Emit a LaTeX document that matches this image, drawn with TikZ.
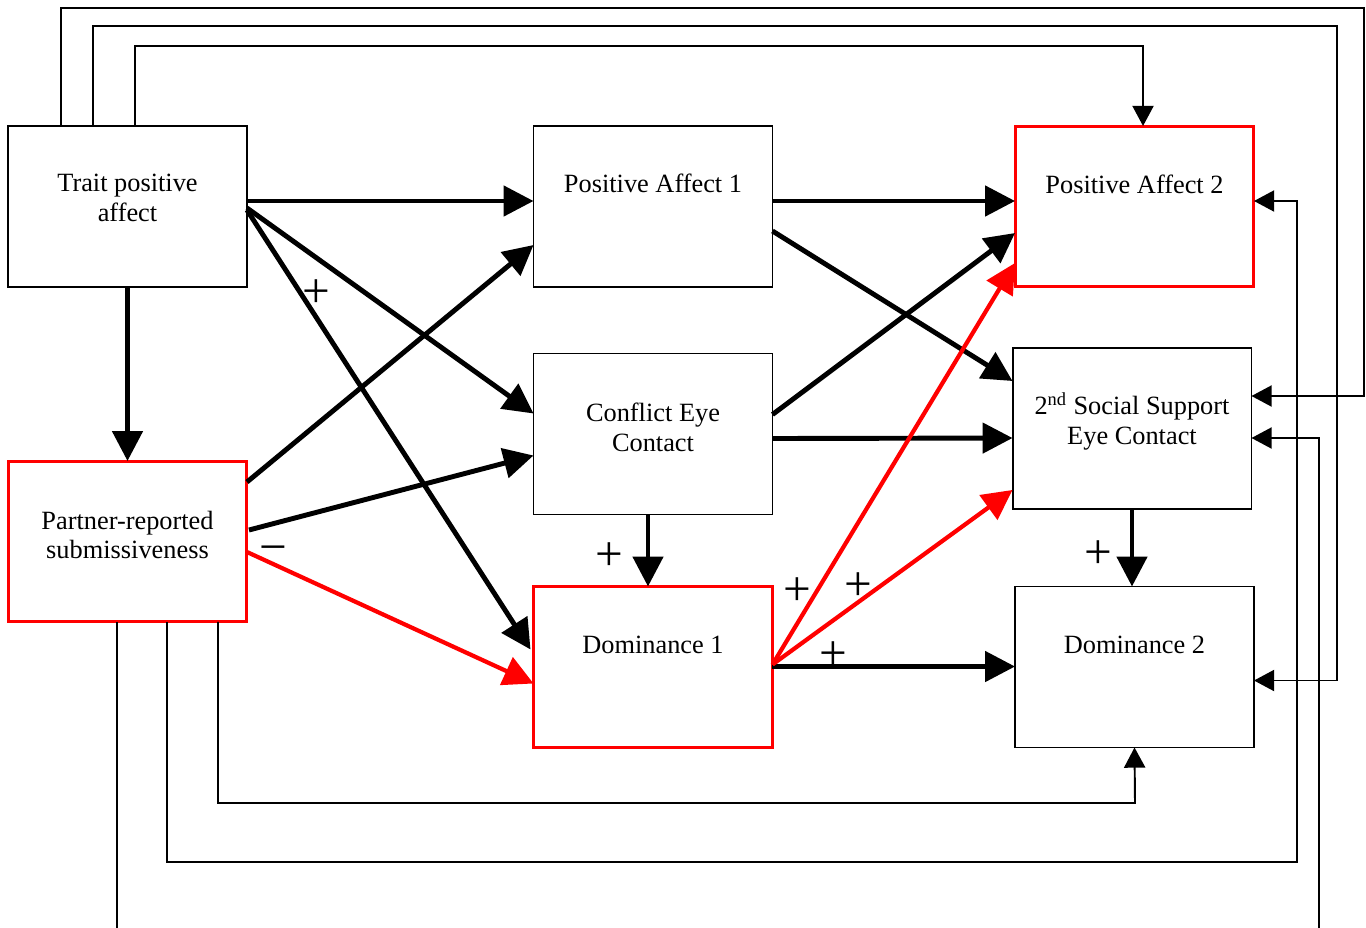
\documentclass[tikz,border=0pt]{standalone}
\usepackage{fontspec}
\setmainfont{Liberation Serif}
\usetikzlibrary{arrows.meta,calc}
\begin{document}
\begin{tikzpicture}[x=0.02cm,y=-0.02cm,
  box/.style={draw=black,line width=1.1pt,minimum width=4.78cm,minimum height=3.22cm,inner sep=0pt,outer sep=0pt},
  redbox/.style={box,draw=red,line width=1.7pt},
  lbl/.style={font=\fontsize{15}{17}\selectfont,align=center,inner sep=0pt},
  sign/.style={font=\fontsize{28}{28}\selectfont,inner sep=0pt},
  thickarr/.style={draw=black,line width=2.8pt,-{Triangle[length=17pt,width=17pt]}},
  redarr/.style={draw=red,line width=2.4pt,-{Triangle[length=17pt,width=17pt]}},
  thinarr/.style={draw=black,line width=1.1pt,-{Triangle[length=11.5pt,width=12pt]}}
]
\useasboundingbox (0,0) rectangle (1366,928);
\fill[white] (0,0) rectangle (1366,928);
\clip (0,0) rectangle (1366,928);

% boxes
\node[box]    (trait)   at (127.5,206.5) {};
\node[redbox] (partner) at (127.5,541.5) {};
\node[box]    (pa1)     at (653,206.5) {};
\node[box]    (conf)    at (653,434) {};
\node[redbox] (dom1)    at (653,667) {};
\node[redbox] (pa2)     at (1134.5,206.5) {};
\node[box]    (ss)      at (1132,428.5) {};
\node[box]    (dom2)    at (1134.5,667) {};

% texts
\node[lbl] (traitT)   at ($(trait.north)+(0,72)$) {Trait positive\\affect};
\node[lbl] (partnerT) at ($(partner.north)+(0,74)$) {Partner-reported\\submissiveness};
\node[lbl] (pa1T)     at ($(pa1.north)+(0,57)$) {Positive Affect 1};
\node[lbl] (confT)    at ($(conf.north)+(0,74)$) {Conflict Eye\\Contact};
\node[lbl] (dom1T)    at ($(dom1.north)+(0,58)$) {Dominance 1};
\node[lbl] (pa2T)     at ($(pa2.north)+(0,58)$) {Positive Affect 2};
\node[lbl] (ssT)      at ($(ss.north)+(0,73)$) {2\textsuperscript{nd} Social Support\\Eye Contact};
\node[lbl] (dom2T)    at ($(dom2.north)+(0,58)$) {Dominance 2};

% thick black paths
\draw[thickarr] ($(trait.north east)+(0,75)$) -- ($(pa1.north west)+(0,75)$);
\draw[thickarr] ($(trait.north east)+(0,82)$) -- ($(conf.north west)+(0,60)$);
\draw[thickarr] ($(trait.north east)+(0,84)$) -- ($(dom1.north west)+(-3,63)$);
\draw[thickarr] (trait.south) -- (partner.north);
\draw[thickarr] ($(partner.north east)+(0,21)$) -- ($(pa1.north west)+(0,119)$);
\draw[thickarr] ($(partner.north east)+(2,69)$) -- ($(conf.north west)+(0,102)$);
\draw[thickarr] ($(pa1.north east)+(0,75)$) -- ($(pa2.north west)+(0,75)$);
\draw[thickarr] ($(pa1.north east)+(0,105)$) -- ($(ss.north west)+(0,33)$);
\draw[thickarr] ($(conf.north east)+(0,61)$) -- ($(pa2.north west)+(0,107)$);
\draw[thickarr] ($(conf.north east)+(0,85)$) -- ($(ss.north west)+(0,90)$);
\draw[thickarr] ($(conf.south)+(-5,0)$) -- ($(dom1.north)+(-5,0)$);
\draw[thickarr] ($(dom1.north east)+(0,80)$) -- ($(dom2.north west)+(0,80)$);
\draw[thickarr] (ss.south) -- (ss.south |- dom2.north);

% red paths
\draw[redarr] ($(partner.north east)+(0,91)$) -- ($(dom1.north west)+(0,97)$);
\draw[redarr] ($(dom1.north east)+(0,78)$) -- ($(pa2.south west)+(0,-24)$);
\draw[redarr] ($(dom1.north east)+(0,78)$) -- ($(ss.south west)+(0,-19)$);

% thin routed connectors
\coordinate (ka) at (1364,8);
\coordinate (kb) at (1337,26);
\coordinate (kc) at (1143,46);
\coordinate (kd) at (1319,960);
\coordinate (ke) at (1297,862);
\coordinate (kf) at (1135,803);
\draw[thinarr] ($(trait.north west)+(53,0)$) |- (ka) |- ($(ss.north east)+(0,48)$);
\draw[thinarr] ($(trait.north west)+(85,0)$) |- (kb) |- ($(dom2.north east)+(0,94)$);
\draw[thinarr] ($(trait.north west)+(127,0)$) |- (kc) -- ($(pa2.north west)+(128,0)$);
\draw[thinarr] ($(partner.south west)+(109,0)$) |- (kd) |- ($(ss.north east)+(0,90)$);
\draw[thinarr] ($(partner.south west)+(159,0)$) |- (ke) |- ($(pa2.north east)+(0,75)$);
\draw[thinarr] ($(partner.south west)+(210,0)$) |- (kf) -- (dom2.south);

% signs
\node[sign] (s1) at (316,294) {+};
\node[sign] (s2) at (273,555) {−};
\node[sign] (s3) at (609,557) {+};
\node[sign] (s4) at (797,592) {+};
\node[sign] (s5) at (858,587) {+};
\node[sign] (s6) at (833,656) {+};
\node[sign] (s7) at (1098,555) {+};
\end{tikzpicture}
\end{document}
